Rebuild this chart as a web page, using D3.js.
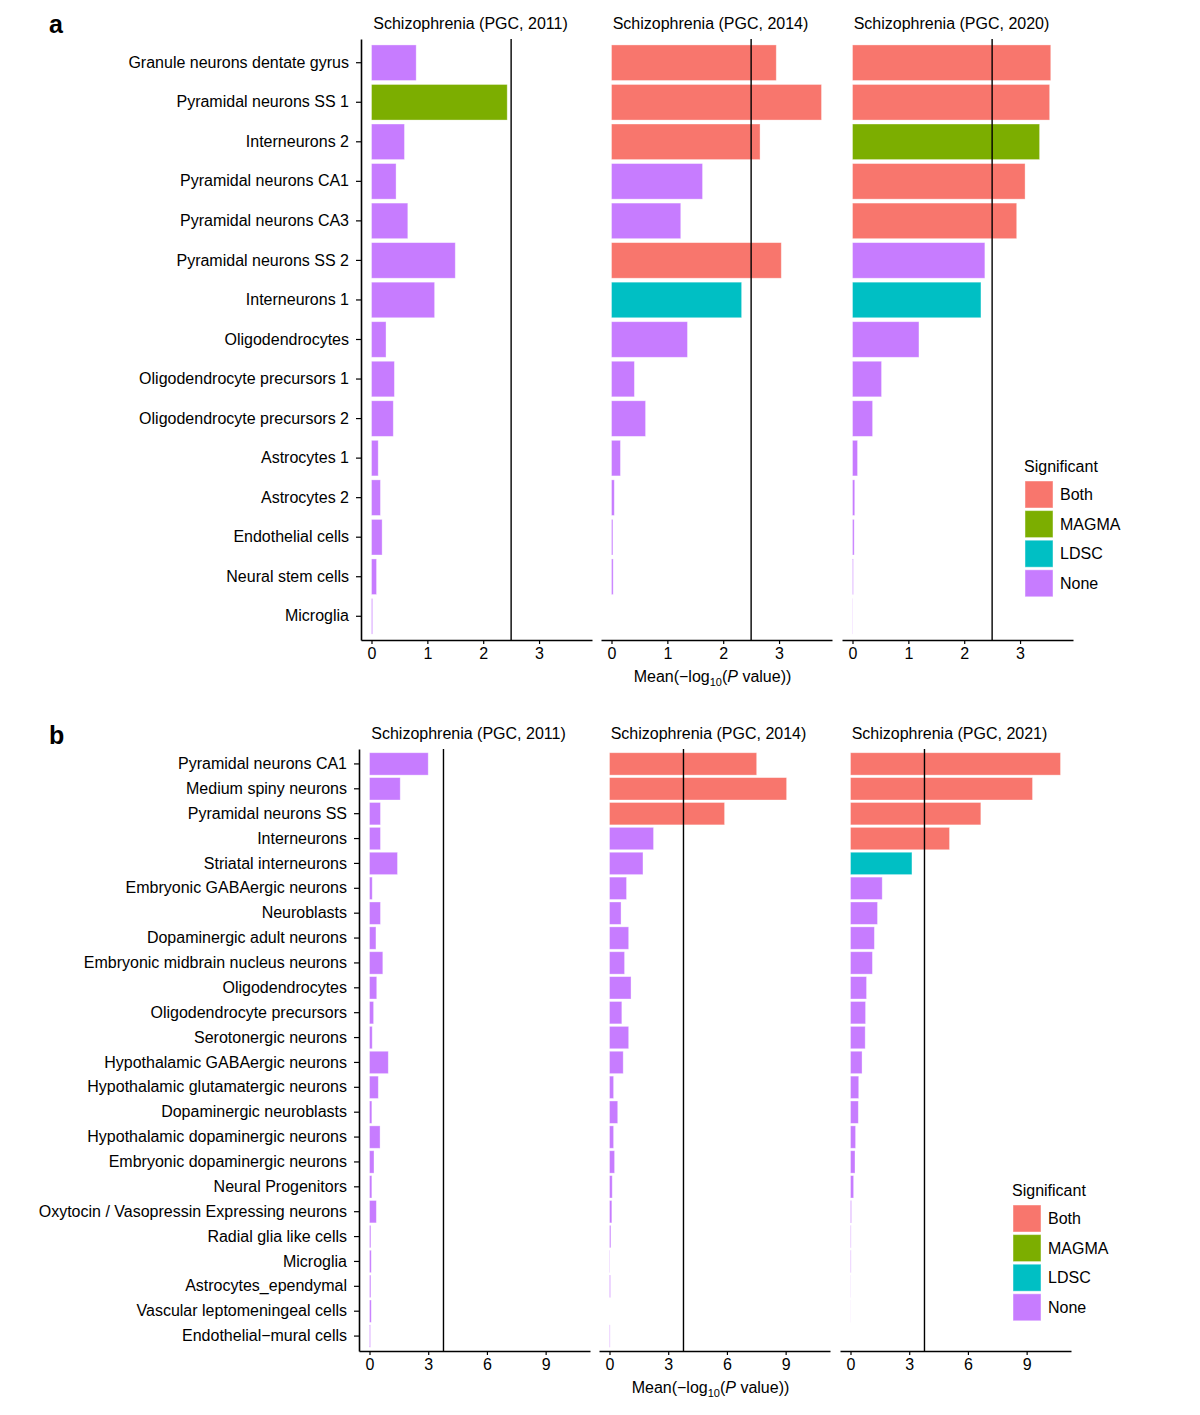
<!DOCTYPE html>
<html>
<head>
<meta charset="utf-8">
<script src="https://cdn.jsdelivr.net/npm/d3@7"></script>
<style>
  body { margin: 0; background: #fff; }
  text { font-family: "Liberation Sans", Arial, Helvetica, sans-serif; fill: #000; }
</style>
</head>
<body>
<div id="chart"></div>
<script>
// panel a data
const cellsA = ["Granule neurons dentate gyrus", "Pyramidal neurons SS 1", "Interneurons 2",
  "Pyramidal neurons CA1", "Pyramidal neurons CA3", "Pyramidal neurons SS 2", "Interneurons 1",
  "Oligodendrocytes", "Oligodendrocyte precursors 1", "Oligodendrocyte precursors 2",
  "Astrocytes 1", "Astrocytes 2", "Endothelial cells", "Neural stem cells", "Microglia"];
const studiesA = ["Schizophrenia (PGC, 2011)", "Schizophrenia (PGC, 2014)", "Schizophrenia (PGC, 2020)"];
const valsA2011 = [0.80, 2.43, 0.59, 0.44, 0.65, 1.50, 1.13, 0.26, 0.41, 0.39, 0.12, 0.16, 0.19, 0.09, 0.02];
const valsA2014 = [2.95, 3.76, 2.66, 1.63, 1.24, 3.04, 2.33, 1.36, 0.41, 0.61, 0.16, 0.05, 0.025, 0.03, 0];
const valsA2020 = [3.55, 3.53, 3.35, 3.09, 2.94, 2.37, 2.30, 1.19, 0.52, 0.36, 0.09, 0.04, 0.03, 0.015, 0.005];
const sigA2011 = ["None", "MAGMA", "None", "None", "None", "None", "None", "None", "None", "None", "None", "None", "None", "None", "None"];
const sigA2014 = ["Both", "Both", "Both", "None", "None", "Both", "LDSC", "None", "None", "None", "None", "None", "None", "None", "None"];
const sigA2020 = ["Both", "Both", "MAGMA", "Both", "Both", "None", "LDSC", "None", "None", "None", "None", "None", "None", "None", "None"];
const ticksA = [0, 1, 2, 3];
const threshA = 2.5;

// panel b data
const cellsB = ["Pyramidal neurons CA1", "Medium spiny neurons", "Pyramidal neurons SS", "Interneurons",
  "Striatal interneurons", "Embryonic GABAergic neurons", "Neuroblasts", "Dopaminergic adult neurons",
  "Embryonic midbrain nucleus neurons", "Oligodendrocytes", "Oligodendrocyte precursors",
  "Serotonergic neurons", "Hypothalamic GABAergic neurons", "Hypothalamic glutamatergic neurons",
  "Dopaminergic neuroblasts", "Hypothalamic dopaminergic neurons", "Embryonic dopaminergic neurons",
  "Neural Progenitors", "Oxytocin / Vasopressin Expressing neurons", "Radial glia like cells",
  "Microglia", "Astrocytes_ependymal", "Vascular leptomeningeal cells", "Endothelial\u2212mural cells"];
const studiesB = ["Schizophrenia (PGC, 2011)", "Schizophrenia (PGC, 2014)", "Schizophrenia (PGC, 2021)"];
const valsB2011 = [3.0, 1.57, 0.56, 0.56, 1.43, 0.14, 0.56, 0.33, 0.68, 0.37, 0.21, 0.14,
  0.96, 0.45, 0.12, 0.54, 0.23, 0.12, 0.35, 0.07, 0.09, 0.07, 0.09, 0.05];
const valsB2014 = [7.52, 9.05, 5.88, 2.25, 1.71, 0.87, 0.59, 0.98, 0.77, 1.10, 0.63, 0.98,
  0.70, 0.21, 0.42, 0.21, 0.26, 0.14, 0.12, 0.07, 0.02, 0.05, 0, 0.03];
const valsB2021 = [10.73, 9.30, 6.66, 5.06, 3.14, 1.62, 1.38, 1.22, 1.12, 0.82, 0.77, 0.75,
  0.59, 0.42, 0.40, 0.26, 0.23, 0.16, 0.05, 0.03, 0.03, 0.01, 0.005, 0];
const sigB2011 = cellsB.map(() => "None");
const sigB2014 = ["Both", "Both", "Both", "None", "None", "None", "None", "None", "None", "None", "None", "None",
  "None", "None", "None", "None", "None", "None", "None", "None", "None", "None", "None", "None"];
const sigB2021 = ["Both", "Both", "Both", "Both", "LDSC", "None", "None", "None", "None", "None", "None", "None",
  "None", "None", "None", "None", "None", "None", "None", "None", "None", "None", "None", "None"];
const ticksB = [0, 3, 6, 9];
const threshB = 3.78;

const sigLevels = ["Both", "MAGMA", "LDSC", "None"];
const color = d3.scaleOrdinal().domain(sigLevels).range(["#F8766D", "#7CAE00", "#00BFC4", "#C77CFF"]);

const FONT = '"Liberation Sans", Arial, Helvetica, sans-serif';
const FS = 16;

const svg = d3.select("#chart").append("svg")
  .attr("width", 1200)
  .attr("height", 1415);

function drawBlock(opt) {
  const g = svg.append("g");
  const facetW = 231;

  // panel letter
  g.append("text")
    .attr("x", 49).attr("y", opt.letterY)
    .attr("font-size", 25).attr("font-weight", "bold")
    .text(opt.letter);

  const allVals = d3.merge(opt.vals);
  const vmax = d3.max(allVals);
  const pad = vmax * 0.05;

  const y = d3.scaleBand()
    .domain(opt.cells)
    .range([opt.top, opt.bottom])
    .paddingInner(0.1)
    .paddingOuter(0.15);

  opt.studies.forEach((study, i) => {
    const x0 = opt.facetX[i];
    const x = d3.scaleLinear().domain([-pad, vmax + pad]).range([x0, x0 + facetW]);
    const fg = g.append("g");

    // strip title
    fg.append("text")
      .attr("x", x0 + facetW / 2 - 6)
      .attr("y", opt.top - 10)
      .attr("text-anchor", "middle")
      .attr("font-size", FS)
      .text(study);

    const rows = opt.cells.map((c, j) => ({ cell: c, v: opt.vals[i][j], sig: opt.sigs[i][j] }));

    fg.selectAll("rect.bar")
      .data(rows)
      .enter().append("rect")
      .attr("class", "bar")
      .attr("x", x(0))
      .attr("y", d => y(d.cell))
      .attr("width", d => Math.max(0, x(d.v) - x(0)))
      .attr("height", y.bandwidth())
      .attr("fill", d => color(d.sig))
      .attr("stroke", "#fff")
      .attr("stroke-opacity", 0.45)
      .attr("stroke-width", 0.8);

    // threshold line
    fg.append("line")
      .attr("x1", x(opt.thresh)).attr("x2", x(opt.thresh))
      .attr("y1", opt.top).attr("y2", opt.bottom)
      .attr("stroke", "#000").attr("stroke-width", 1.4);

    // x axis
    const xAxis = fg.append("g")
      .attr("transform", `translate(0,${opt.bottom})`)
      .call(d3.axisBottom(x).tickValues(opt.ticks).tickFormat(d3.format("d"))
        .tickSize(4).tickPadding(4).tickSizeOuter(0));
    xAxis.select(".domain").attr("stroke-width", 1.6);
    xAxis.selectAll(".tick line").attr("stroke-width", 1.2);
    xAxis.selectAll(".tick text")
      .attr("font-size", FS)
      .attr("font-family", FONT)
      .attr("fill", "#000");

    if (i === 0) {
      const yAxis = fg.append("g")
        .attr("transform", `translate(${x0},0)`)
        .call(d3.axisLeft(y).tickSize(5).tickPadding(7).tickSizeOuter(0));
      yAxis.select(".domain").attr("stroke-width", 1.6);
      yAxis.selectAll(".tick line").attr("stroke-width", 1.2);
      yAxis.selectAll(".tick text")
        .attr("font-size", FS)
        .attr("font-family", FONT)
        .attr("fill", "#000");
    }
  });

  // x axis title
  const t = g.append("text")
    .attr("x", opt.facetX[1] + facetW / 2 - 4)
    .attr("y", opt.bottom + 42)
    .attr("text-anchor", "middle")
    .attr("font-size", FS);
  t.append("tspan").text("Mean(\u2212log");
  t.append("tspan").attr("font-size", 11).attr("dy", 4).text("10");
  t.append("tspan").attr("dy", -4).text("(");
  t.append("tspan").attr("font-style", "italic").text("P");
  t.append("tspan").text(" value))");

  // legend
  const lg = g.append("g").attr("transform", `translate(${opt.legendX},${opt.legendY})`);
  lg.append("text").attr("x", -1).attr("y", 0).attr("font-size", FS).text("Significant");
  sigLevels.forEach((s, k) => {
    lg.append("rect")
      .attr("x", 0).attr("y", 9 + k * 29.6)
      .attr("width", 28).attr("height", 27)
      .attr("fill", color(s))
      .attr("stroke", "#fff").attr("stroke-opacity", 0.45);
    lg.append("text")
      .attr("x", 35).attr("y", 9 + k * 29.6 + 19)
      .attr("font-size", FS)
      .text(s);
  });
}

drawBlock({
  letter: "a", letterY: 33,
  cells: cellsA, studies: studiesA,
  vals: [valsA2011, valsA2014, valsA2020],
  sigs: [sigA2011, sigA2014, sigA2020],
  ticks: ticksA, thresh: threshA,
  top: 39, bottom: 640,
  facetX: [361, 601, 842],
  legendX: 1025, legendY: 472
});

drawBlock({
  letter: "b", letterY: 744,
  cells: cellsB, studies: studiesB,
  vals: [valsB2011, valsB2014, valsB2021],
  sigs: [sigB2011, sigB2014, sigB2021],
  ticks: ticksB, thresh: threshB,
  top: 749, bottom: 1351,
  facetX: [359, 599, 840],
  legendX: 1013, legendY: 1196
});
</script>
</body>
</html>
